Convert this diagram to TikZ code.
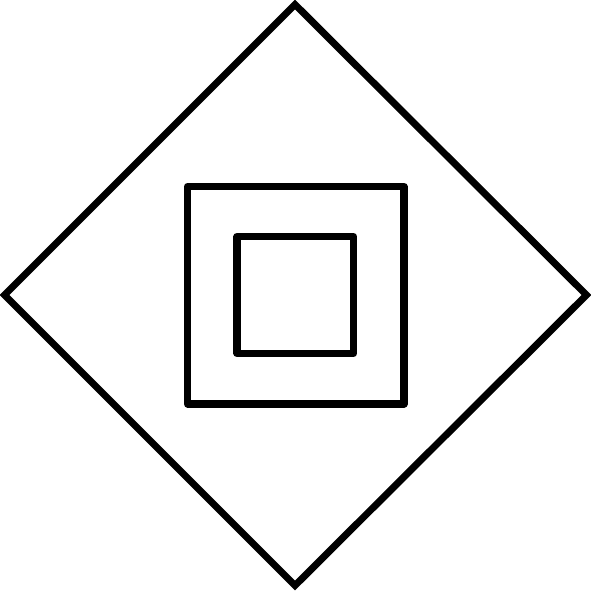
\documentclass[tikz,border=0pt]{standalone}
\usepackage{tikz}
\tikzset{
	outline/.style={draw=black, line width=2pt},
	box/.style={outline, line join=round}
}

\begin{document}
\begin{tikzpicture}[x=0.01cm, y=-0.01cm]
		\useasboundingbox (0,0) rectangle (591,591);
		% outer diamond
		\draw [outline, line join=miter]	(4.5,295) -- (295,4.5) -- (586.5,295) -- (295,585.5) -- cycle;
		% two nested squares
		\draw [box]	(187.5,186.5) rectangle (404,404);
		\draw [box]	(237,236.5) rectangle (353.5,353.5);
	\end{tikzpicture}
\end{document}
